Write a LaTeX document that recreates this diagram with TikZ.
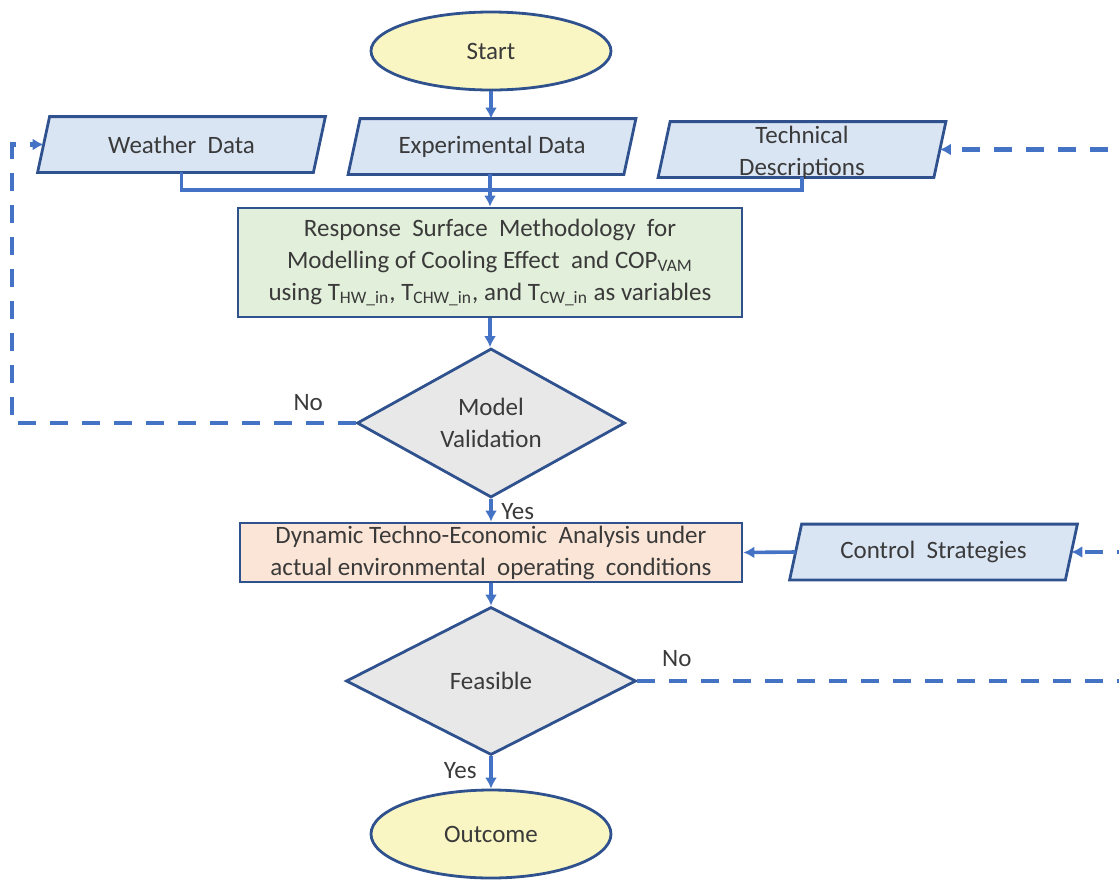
\documentclass[tikz,border=0pt]{standalone}
\usepackage{fontspec}
\setmainfont{Carlito}
\usetikzlibrary{shapes.geometric,arrows.meta,positioning,backgrounds}
\definecolor{edgeblue}{HTML}{2F528F}
\definecolor{lineblue}{HTML}{4472C4}
\definecolor{iofill}{HTML}{DAE5F4}
\definecolor{rsmfill}{HTML}{E2EFDA}
\definecolor{dynfill}{HTML}{FBE5D6}
\definecolor{decfill}{HTML}{E8E8E8}
\definecolor{termfill}{HTML}{FAF6C3}
\definecolor{txt}{HTML}{3A3A3A}
\tikzset{
  base/.style={draw=edgeblue,line width=1.4pt,text=txt,inner sep=1pt},
  termnode/.style={base,ellipse,fill=termfill,minimum width=120pt,minimum height=39pt},
  iobody/.style={rectangle,text=txt,inner sep=1pt,minimum width=137.5pt,minimum height=27.5pt},
  ioframe/.style={draw=edgeblue,line width=1.4pt,fill=iofill,line join=miter},
  procbox/.style={base,rectangle,align=center},
  decnode/.style={base,diamond,fill=decfill,align=center},
  flow/.style={draw=lineblue,line width=1.8pt,-{Latex[length=5.5pt,width=6pt]}},
  bus/.style={draw=lineblue,line width=1.8pt},
  loop/.style={draw=lineblue,line width=2.1pt,dash pattern=on 9pt off 7pt,-{Latex[length=5.5pt,width=6pt]}},
  tag/.style={text=txt}
}
% input/output box: slanted frame behind a plain node
\newcommand{\ionode}[3]{%
  \node[iobody] (#1) at (#2) {#3};
  \begin{scope}[on background layer]
    \draw[ioframe] ([xshift=3pt]#1.north west) -- ([xshift=3pt]#1.north east)
      -- ([xshift=-3pt]#1.south east) -- ([xshift=-3pt]#1.south west) -- cycle;
  \end{scope}}
\begin{document}
\begin{tikzpicture}[x=0.5pt,y=-0.5pt,font=\fontsize{12.5}{16}\selectfont]
\useasboundingbox (0,0) rectangle (1119,879);
% terminals, inputs and steps
\node[termnode] (start) at (491,51) {Start};
\ionode{wd}{181.5,144.5}{Weather\ \ Data}
\ionode{ed}{492,146.5}{Experimental Data}
\ionode{td}{802,149.5}{\smash{\raisebox{-5pt}{\begin{tabular}{@{}c@{}}Technical\\Descriptions\end{tabular}}}}
\node[procbox,fill=rsmfill,minimum width=252pt,minimum height=54.5pt] (rsm) at (490,262.5)
  {Response\ \ Surface\ \ Methodology\ \ for\\Modelling of Cooling Effect\ \ and COP\textsubscript{VAM}\\
   using T\textsubscript{HW\_in}, T\textsubscript{CHW\_in}, and T\textsubscript{CW\_in} as variables};
\node[decnode,aspect=1.8,minimum width=134pt,minimum height=74.5pt] (mv) at (491,423) {Model\\Validation};
\node[procbox,fill=dynfill,minimum width=251pt,minimum height=29.5pt] (dyn) at (491,552.5)
  {Dynamic Techno-Economic\ \ Analysis under\\actual environmental\ \ operating\ \ conditions};
\ionode{cs}{933.5,552}{Control\ \ Strategies}
\node[decnode,aspect=1.96,minimum width=145pt,minimum height=74pt] (fe) at (491,681) {Feasible};
\node[termnode,minimum height=44pt] (out) at (491,834) {Outcome};
% main flow
\draw[flow] (start.south) -- (start.south |- ed.north);
\coordinate (bj) at (491,190);
\draw[bus] (wd.south) |- (bj) -| (td.south);
\draw[flow] (ed.south -| rsm.north) -- (rsm.north);
\draw[flow] (rsm.south) -- (rsm.south |- mv.north);
\draw[flow] (mv.south) -- (dyn.north) node[tag,pos=.55,right=1pt] {Yes};
\draw[flow] (cs.west) -- (dyn.east);
\draw[flow] (dyn.south) -- (fe.north);
\draw[flow] (fe.south) -- (out.north) node[tag,pos=.45,left=3pt] {Yes};
% feedback loops
\draw[loop] (mv.west) node[tag,above left=2pt and 12pt] {No} -- (12,423) |- (wd.west);
\coordinate (rt) at (1135,681);
\draw[loop] (fe.east) node[tag,above right=3pt and 8pt] {No} -- (rt) |- (td.east);
\draw[loop] (rt |- cs.east) -- (cs.east);
\end{tikzpicture}
\end{document}
